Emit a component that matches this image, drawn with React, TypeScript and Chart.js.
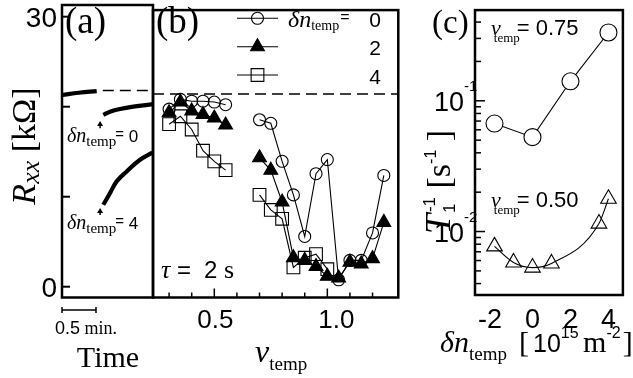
import React, { useEffect, useRef } from 'react';
import { Chart, registerables } from 'chart.js';
Chart.register(...registerables);

const W = 633;
const H = 378;
const SERIF = '"Liberation Serif", "Times New Roman", serif';
const SANS = '"Liberation Sans", Arial, sans-serif';

// ---------------- panel (a): R_xx vs time ----------------
const TRACE_TIME_SAT = [0, 0.25, 0.51];
const TRACE_R_SAT = [21.3, 21.55, 21.74];
const TRACE_TIME_DN0 = [0.607, 0.706, 0.853, 1.049, 1.338];
const TRACE_R_DN0 = [19.08, 19.44, 19.74, 20.0, 20.28];
const TRACE_TIME_DN4 = [0.607, 0.706, 0.804, 0.951, 1.147, 1.33];
const TRACE_R_DN4 = [9.1, 10.4, 11.7, 12.8, 14.1, 14.9];
const SATURATION_R = 21.8;
const DASH_START_TIME = 0.6;
const TIME_MAX = 1.338;
const SCALE_BAR_MIN = 0.5;
const ARROW_TIME = 0.56;
const ARROW_FROM = [17.6, 7.97];
const ARROW_TO = [18.4, 8.74];
const ARROW_LABELS = ['0', '4'];
const R_TICKS = [0, 10, 20, 30];
const R_TICK_LABELS = ['0', '', '', '30'];
const R_MIN = -1.2;
const R_MAX = 31.3;

// ---------------- panel (b): R_xx vs nu_temp ----------------
const NU_LOW = [0.3, 0.35, 0.4, 0.45, 0.5, 0.55];
const NU_HIGH = [0.7, 0.75, 0.8, 0.85, 0.9, 0.95, 1.0, 1.05, 1.1, 1.15, 1.2, 1.25];
const NU_HIGH_DN4 = [0.7, 0.75, 0.8, 0.85, 0.9, 0.95, 1.0];
const R_DN0_LOW = [20.1, 21.2, 21.0, 21.0, 20.9, 20.6];
const R_DN0_HIGH = [18.9, 18.5, 14.2, 10.4, 5.7, 12.8, 14.4, 0.8, 3.0, 3.0, 6.1, 12.6];
const R_DN2_LOW = [19.7, 20.9, 19.9, 19.5, 19.1, 18.3];
const R_DN2_HIGH = [14.6, 13.2, 9.6, 3.3, 3.0, 2.3, 1.2, 1.0, 2.8, 2.6, 3.2, 7.3];
const R_DN4_LOW = [18.4, 19.3, 17.8, 15.4, 14.2, 13.2];
const R_DN4_HIGH = [10.4, 8.7, 7.7, 2.2, 3.3, 3.7, 2.0];
const NU_MIN = 0.2288;
const NU_MAX = 1.314;
const NU_TICKS = [0.3, 0.4, 0.5, 0.6, 0.7, 0.8, 0.9, 1.0, 1.1, 1.2];
const NU_LABEL_VALUES = [0.5, 1.0];
const NU_LABELS = ['0.5', '1.0'];
const LEGEND_VALUES = ['0', '2', '4'];

// ---------------- panel (c): 1/T1 vs delta n ----------------
const DN_NU075 = [-2, 0, 2, 4];
const RATE_NU075 = [0.067, 0.0527, 0.141, 0.333];
const DN_NU050 = [-2, -1, 0, 1, 3.5, 4];
const RATE_NU050 = [0.0077, 0.0058, 0.0053, 0.0057, 0.0115, 0.0178];
const SERIES_C_LABELS = ['0.75', '0.50'];
const DN_TICKS = [-2, 0, 2, 4];
const RATE_DECADES = [-3, -2, -1];
const DN_MIN = -3.026;
const DN_MAX = 4.76;
const RATE_MIN = 0.00327;
const RATE_MAX = 0.494;

type Mk = { style: 'circle' | 'triangle' | 'rect'; r: number; fill: string };
const MK_B: Mk[] = [
  { style: 'circle', r: 6, fill: 'rgba(0,0,0,0)' },
  { style: 'triangle', r: 8, fill: '#000' },
  { style: 'rect', r: 9, fill: 'rgba(0,0,0,0)' },
];
const MK_C_CIRCLE: Mk = { style: 'circle', r: 8.5, fill: '#fff' };
const MK_C_TRI: Mk = { style: 'triangle', r: 9, fill: 'rgba(0,0,0,0)' };

type Part = { t: string; f: string; dx?: number; dy?: number; stay?: boolean };
function rich(ctx: CanvasRenderingContext2D, x: number, y: number, parts: Part[], align: 'left' | 'center' | 'right' = 'left') {
  ctx.save();
  ctx.fillStyle = '#000';
  ctx.textAlign = 'left';
  ctx.textBaseline = 'alphabetic';
  const ws = parts.map((p) => {
    ctx.font = p.f;
    return ctx.measureText(p.t).width;
  });
  let total = 0;
  parts.forEach((p, i) => {
    total += (p.dx || 0) + (p.stay ? 0 : ws[i]);
  });
  let cx = align === 'left' ? x : align === 'center' ? x - total / 2 : x - total;
  parts.forEach((p, i) => {
    cx += p.dx || 0;
    ctx.font = p.f;
    ctx.fillText(p.t, cx, y + (p.dy || 0));
    if (!p.stay) cx += ws[i];
  });
  ctx.restore();
}

function seg(ctx: CanvasRenderingContext2D, x0: number, y0: number, x1: number, y1: number, w: number) {
  ctx.save();
  ctx.beginPath();
  ctx.moveTo(x0, y0);
  ctx.lineTo(x1, y1);
  ctx.lineWidth = w;
  ctx.strokeStyle = '#000';
  ctx.stroke();
  ctx.restore();
}

function frame(ctx: CanvasRenderingContext2D, ca: any) {
  ctx.save();
  ctx.lineWidth = 2.5;
  ctx.strokeStyle = '#000';
  ctx.strokeRect(ca.left, ca.top, ca.right - ca.left, ca.bottom - ca.top);
  ctx.restore();
}

function drawMarker(ctx: CanvasRenderingContext2D, m: Mk, x: number, y: number) {
  ctx.save();
  ctx.beginPath();
  if (m.style === 'circle') ctx.arc(x, y, m.r, 0, Math.PI * 2);
  else if (m.style === 'triangle') {
    ctx.moveTo(x, y - m.r);
    ctx.lineTo(x + 0.866 * m.r, y + 0.5 * m.r);
    ctx.lineTo(x - 0.866 * m.r, y + 0.5 * m.r);
    ctx.closePath();
  } else {
    const s = Math.SQRT1_2 * m.r;
    ctx.rect(x - s, y - s, 2 * s, 2 * s);
  }
  ctx.fillStyle = m.fill;
  ctx.fill();
  ctx.lineWidth = 1.1;
  ctx.strokeStyle = '#000';
  ctx.stroke();
  ctx.restore();
}

const pts = (xs: number[], ys: number[]) => xs.map((x, i) => ({ x, y: ys[i] as number | null }));
const withGap = (x1: number[], y1: number[], x2: number[], y2: number[]) => [
  ...pts(x1, y1),
  { x: (x1[x1.length - 1] + x2[0]) / 2, y: null },
  ...pts(x2, y2),
];
const markerProps = (m: Mk) => ({
  pointStyle: m.style,
  pointRadius: m.r,
  pointBackgroundColor: m.fill,
  pointBorderColor: '#000',
  pointBorderWidth: 1.1,
});

function makeConfig(datasets: any[], pad: any, xr: number[], yr: number[], draw: (c: any) => void, yType = 'linear'): any {
  return {
    type: 'line',
    data: { datasets },
    options: {
      responsive: false,
      maintainAspectRatio: false,
      animation: false,
      events: [],
      layout: { padding: pad },
      plugins: { legend: { display: false }, tooltip: { enabled: false } },
      scales: {
        x: { type: 'linear', display: false, min: xr[0], max: xr[1] },
        y: { type: yType, display: false, min: yr[0], max: yr[1] },
      },
    },
    plugins: [{ id: 'deco', afterDraw: draw }],
  };
}

function drawA(chart: any) {
  const { ctx, chartArea: ca } = chart;
  const xs = chart.scales.x;
  const ys = chart.scales.y;
  frame(ctx, ca);
  R_TICKS.forEach((v, i) => {
    const py = ys.getPixelForValue(v);
    seg(ctx, ca.left, py, ca.left + 8, py, 2);
    if (R_TICK_LABELS[i]) rich(ctx, ca.left - 5, py + 10, [{ t: R_TICK_LABELS[i], f: `28px ${SANS}` }], 'right');
  });
  rich(ctx, ca.left + 3, 33, [{ t: '(a)', f: `37px ${SERIF}` }]);
  ARROW_FROM.forEach((r0, i) => {
    const px = xs.getPixelForValue(ARROW_TIME);
    const p0 = ys.getPixelForValue(r0);
    const p1 = ys.getPixelForValue(ARROW_TO[i]);
    seg(ctx, px, p0, px, p1 + 4, 1.5);
    ctx.save();
    ctx.beginPath();
    ctx.moveTo(px, p1);
    ctx.lineTo(px - 3, p1 + 5);
    ctx.lineTo(px + 3, p1 + 5);
    ctx.closePath();
    ctx.fillStyle = '#000';
    ctx.fill();
    ctx.restore();
    rich(ctx, ca.left + 5, p0 + 14, [
      { t: 'δn', f: `italic 20px ${SERIF}` },
      { t: 'temp', f: `15px ${SERIF}`, dy: 4 },
      { t: '=', f: `15px ${SANS}`, dx: -1, dy: -3 },
      { t: ' ' + ARROW_LABELS[i], f: `17px ${SANS}` },
    ]);
  });
  const b0 = xs.getPixelForValue(0);
  const b1 = xs.getPixelForValue(SCALE_BAR_MIN);
  seg(ctx, b0, 310, b1, 310, 1.5);
  seg(ctx, b0, 307, b0, 313, 1.5);
  seg(ctx, b1, 307, b1, 313, 1.5);
  rich(ctx, (b0 + b1) / 2 + 7, 334, [
    { t: '0.5', f: `18px ${SANS}` },
    { t: ' min.', f: `18px ${SERIF}` },
  ], 'center');
  rich(ctx, 108, 367, [{ t: 'Time', f: `30px ${SERIF}` }], 'center');
  ctx.save();
  ctx.translate(35, 146);
  ctx.rotate(-Math.PI / 2);
  rich(ctx, 0, 0, [
    { t: 'R', f: `italic 34px ${SERIF}` },
    { t: 'xx', f: `italic 26px ${SERIF}`, dy: 4 },
    { t: ' [kΩ]', f: `34px ${SERIF}` },
  ], 'center');
  ctx.restore();
}

function drawB(chart: any) {
  const { ctx, chartArea: ca } = chart;
  const xs = chart.scales.x;
  frame(ctx, ca);
  NU_TICKS.forEach((v) => {
    const px = xs.getPixelForValue(v);
    const major = NU_LABEL_VALUES.some((m) => Math.abs(m - v) < 1e-6);
    seg(ctx, px, ca.bottom, px, ca.bottom - (major ? 9 : 5), 1.5);
  });
  NU_LABEL_VALUES.forEach((v, i) => {
    const nudge = v === 1 ? 9 : 1;
    rich(ctx, xs.getPixelForValue(v) + nudge, 328, [{ t: NU_LABELS[i], f: `26px ${SANS}` }], 'center');
  });
  rich(ctx, ca.left + 3, 33, [{ t: '(b)', f: `37px ${SERIF}` }]);
  const legY = [18.3, 46.7, 75];
  LEGEND_VALUES.forEach((lab, i) => {
    const y = legY[i];
    seg(ctx, 237, y, 278, y, 1.1);
    drawMarker(ctx, MK_B[i], 257.5, y);
    rich(ctx, 381, y + 8.5, [{ t: lab, f: `21px ${SANS}` }], 'right');
  });
  rich(ctx, 288, 27, [
    { t: 'δn', f: `italic 24px ${SERIF}` },
    { t: 'temp', f: `14px ${SERIF}`, dy: 3 },
    { t: '=', f: `16px ${SANS}`, dx: 1, dy: -5 },
  ]);
  rich(ctx, 161, 278, [{ t: 'τ', f: `italic 26px ${SERIF}` }]);
  rich(ctx, 177, 278, [{ t: '=', f: `24px ${SANS}` }]);
  rich(ctx, 204, 278, [{ t: '2', f: `24px ${SANS}` }]);
  rich(ctx, 224, 278, [{ t: 's', f: `26px ${SERIF}` }]);
  rich(ctx, 255, 362, [
    { t: 'ν', f: `italic 32px ${SERIF}` },
    { t: 'temp', f: `19px ${SERIF}`, dy: 8 },
  ]);
}

function drawC(chart: any) {
  const { ctx, chartArea: ca } = chart;
  const xs = chart.scales.x;
  const ys = chart.scales.y;
  frame(ctx, ca);
  RATE_DECADES.forEach((e) => {
    for (let m = 1; m <= 9; m++) {
      const v = m * Math.pow(10, e);
      if (v <= RATE_MIN || v >= RATE_MAX) continue;
      const py = ys.getPixelForValue(v);
      const major = m === 1;
      seg(ctx, ca.left, py, ca.left + (major ? 10 : 6), py, 1.5);
      if (major) {
        rich(ctx, ca.left - 11, py + 10, [{ t: '10', f: `27px ${SANS}` }], 'right');
        rich(ctx, ca.left - 11, py - 10, [{ t: String(e), f: `15px ${SANS}` }]);
      }
    }
  });
  DN_TICKS.forEach((v) => {
    const px = xs.getPixelForValue(v);
    const s = String(Math.abs(v));
    ctx.save();
    ctx.font = `27px ${SANS}`;
    const w = ctx.measureText(s).width;
    ctx.restore();
    rich(ctx, px, 328, [{ t: s, f: `27px ${SANS}` }], 'center');
    if (v < 0) rich(ctx, px - w / 2, 328, [{ t: '-', f: `27px ${SANS}` }], 'right');
  });
  rich(ctx, 432, 33, [{ t: '(c)', f: `33px ${SERIF}` }]);
  [35, 207].forEach((by, i) => {
    rich(ctx, 491, by, [
      { t: 'ν', f: `italic 22px ${SERIF}` },
      { t: 'temp', f: `13px ${SERIF}`, dx: -7, dy: 7 },
      { t: '=', f: `22px ${SANS}`, dx: -3 },
      { t: ' ' + SERIES_C_LABELS[i], f: `22px ${SANS}` },
    ]);
  });
  ctx.save();
  ctx.translate(450, 182);
  ctx.rotate(-Math.PI / 2);
  rich(ctx, 0, 0, [
    { t: 'T', f: `italic 36px ${SERIF}` },
    { t: '1', f: `17px ${SANS}`, dx: 1, dy: 5, stay: true },
    { t: '-1', f: `17px ${SANS}`, dx: 1, dy: -15 },
    { t: ' [s', f: `34px ${SERIF}` },
    { t: '-1', f: `16px ${SANS}`, dy: -14 },
    { t: ' ]', f: `34px ${SERIF}` },
  ], 'center');
  ctx.restore();
  rich(ctx, 440, 352, [
    { t: 'δn', f: `italic 30px ${SERIF}` },
    { t: 'temp', f: `19px ${SERIF}`, dy: 8 },
  ]);
  rich(ctx, 519, 352, [{ t: '[', f: `30px ${SERIF}` }]);
  rich(ctx, 533, 352, [
    { t: '10', f: `25px ${SANS}` },
    { t: '15', f: `16px ${SANS}`, dy: -14 },
    { t: ' m', f: `30px ${SERIF}`, dx: -3 },
    { t: '-2', f: `16px ${SANS}`, dy: -14 },
    { t: ']', f: `30px ${SERIF}`, dx: 2 },
  ]);
}

function configA() {
  const thick = { borderColor: '#000', borderWidth: 4.2, pointRadius: 0, tension: 0.4, fill: false };
  return makeConfig(
    [
      { ...thick, data: pts(TRACE_TIME_SAT, TRACE_R_SAT) },
      { ...thick, data: pts(TRACE_TIME_DN0, TRACE_R_DN0) },
      { ...thick, data: pts(TRACE_TIME_DN4, TRACE_R_DN4) },
      {
        data: [{ x: DASH_START_TIME, y: SATURATION_R }, { x: TIME_MAX, y: SATURATION_R }],
        borderColor: '#000', borderWidth: 1.5, borderDash: [11, 6], pointRadius: 0, fill: false,
      },
    ],
    { left: 62, top: 5, right: W - 153, bottom: H - 297.5 },
    [0, TIME_MAX],
    [R_MIN, R_MAX],
    drawA
  );
}

function configB() {
  const line = { borderColor: '#000', borderWidth: 1.1, fill: false, spanGaps: false, clip: false };
  return makeConfig(
    [
      {
        data: [{ x: NU_MIN, y: SATURATION_R }, { x: NU_MAX, y: SATURATION_R }],
        borderColor: '#000', borderWidth: 1.5, borderDash: [11, 6], pointRadius: 0, fill: false,
      },
      { ...line, ...markerProps(MK_B[2]), data: withGap(NU_LOW, R_DN4_LOW, NU_HIGH_DN4, R_DN4_HIGH) },
      { ...line, ...markerProps(MK_B[1]), data: withGap(NU_LOW, R_DN2_LOW, NU_HIGH, R_DN2_HIGH) },
      { ...line, ...markerProps(MK_B[0]), data: withGap(NU_LOW, R_DN0_LOW, NU_HIGH, R_DN0_HIGH) },
    ],
    { left: 153, top: 5, right: W - 398.3, bottom: H - 297.5 },
    [NU_MIN, NU_MAX],
    [R_MIN, R_MAX],
    drawB
  );
}

function configC() {
  const line = { borderColor: '#000', borderWidth: 1.1, fill: false, clip: false };
  return makeConfig(
    [
      { ...line, ...markerProps(MK_C_TRI), cubicInterpolationMode: 'monotone', data: pts(DN_NU050, RATE_NU050) },
      { ...line, ...markerProps(MK_C_CIRCLE), data: pts(DN_NU075, RATE_NU075) },
    ],
    { left: 475, top: 3.3, right: W - 632, bottom: H - 295 },
    [DN_MIN, DN_MAX],
    [RATE_MIN, RATE_MAX],
    drawC,
    'logarithmic'
  );
}

export default function App() {
  const aRef = useRef<HTMLCanvasElement>(null);
  const bRef = useRef<HTMLCanvasElement>(null);
  const cRef = useRef<HTMLCanvasElement>(null);
  useEffect(() => {
    const charts = [
      new Chart(aRef.current as HTMLCanvasElement, configA()),
      new Chart(bRef.current as HTMLCanvasElement, configB()),
      new Chart(cRef.current as HTMLCanvasElement, configC()),
    ];
    return () => charts.forEach((c) => c.destroy());
  }, []);
  const st: React.CSSProperties = { position: 'absolute', left: 0, top: 0, width: W, height: H };
  return (
    <div style={{ position: 'absolute', left: 0, top: 0, width: W, height: H, background: '#fff', overflow: 'hidden' }}>
      <canvas ref={aRef} width={W} height={H} style={st} />
      <canvas ref={bRef} width={W} height={H} style={st} />
      <canvas ref={cRef} width={W} height={H} style={st} />
    </div>
  );
}
